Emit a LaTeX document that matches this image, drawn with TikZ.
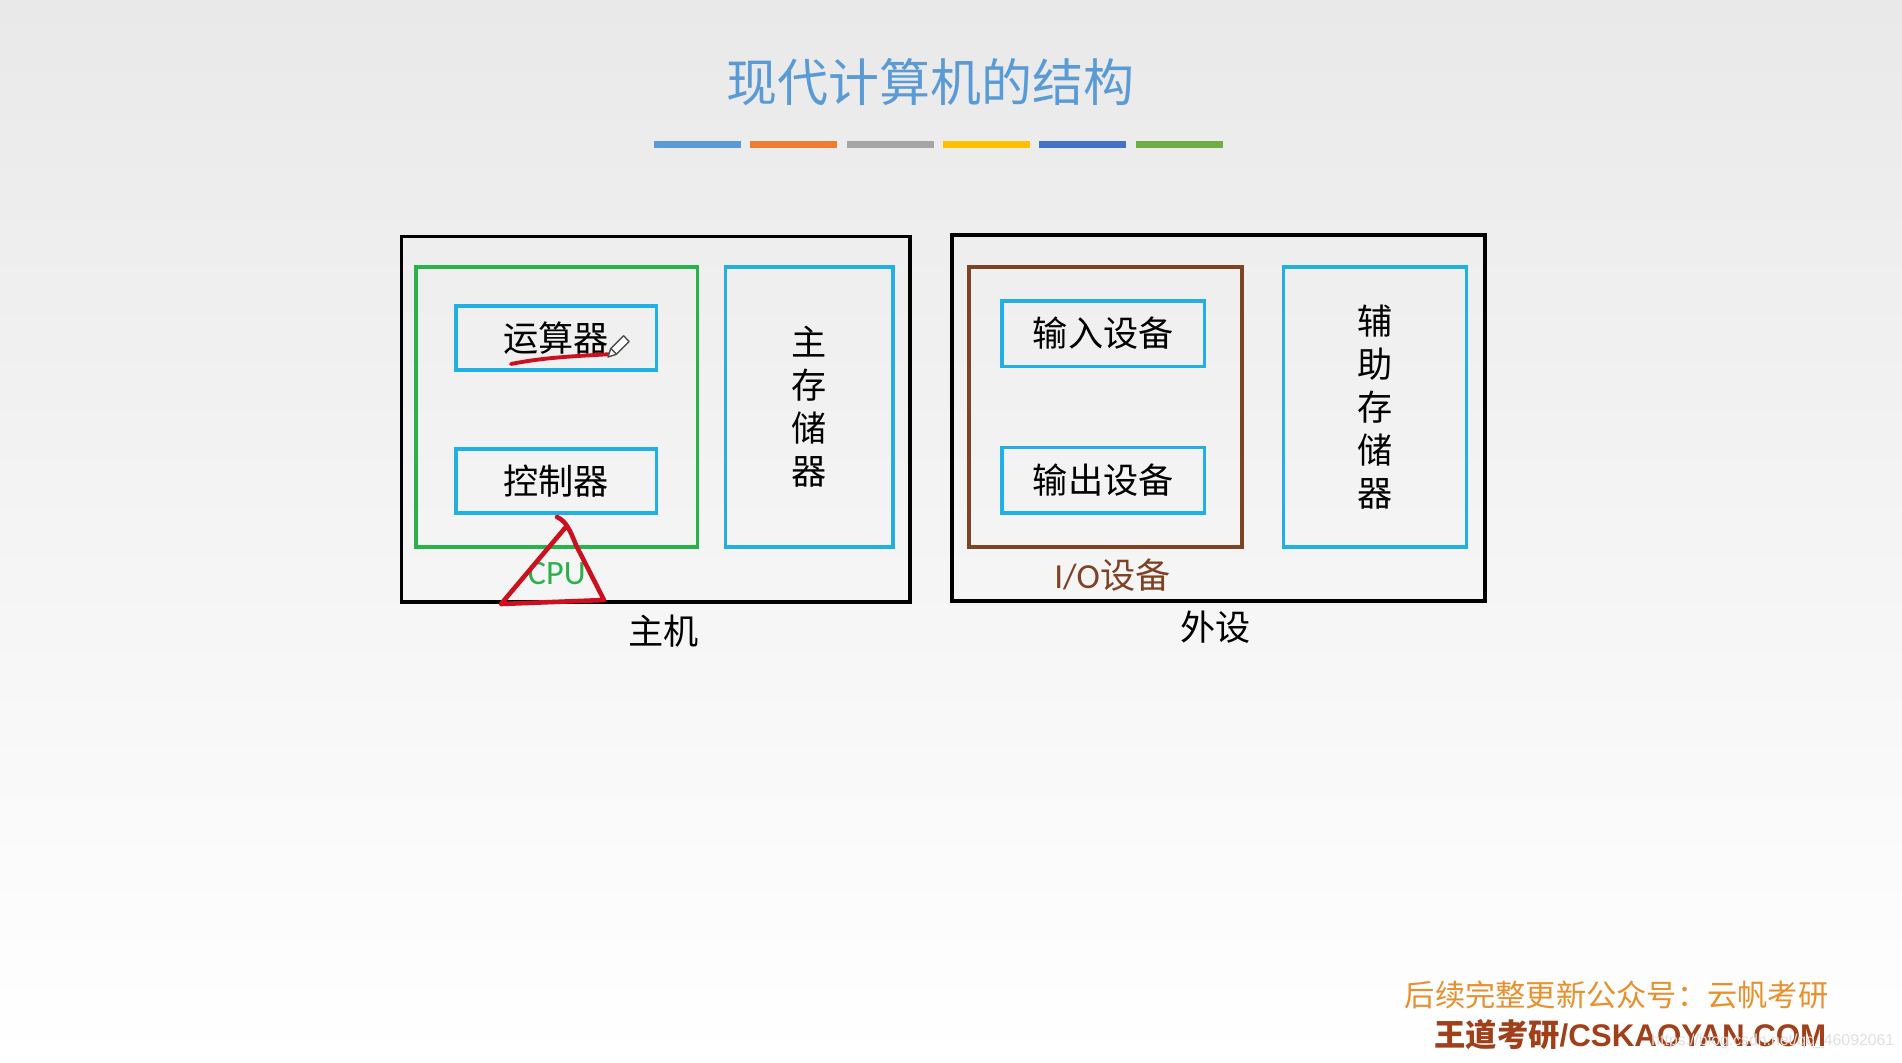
\documentclass[tikz,border=0pt]{standalone}
\usepackage{fontspec}
\setmainfont{Noto Sans CJK SC}
\newfontfamily\calfont{Carlito}
\newfontfamily\arialfont{Liberation Sans}
\usetikzlibrary{positioning}
\definecolor{bgtop}{HTML}{E9E9E9}
\definecolor{bgmid}{HTML}{F8F8F8}
\definecolor{csblue}{HTML}{5B9BD5}
\definecolor{csorange}{HTML}{ED7D31}
\definecolor{csgray}{HTML}{A5A5A5}
\definecolor{csgold}{HTML}{FFC000}
\definecolor{csnavy}{HTML}{4472C4}
\definecolor{cslime}{HTML}{70AD47}
\definecolor{cscyan}{HTML}{22B0E3}
\definecolor{csgreen}{HTML}{29B24A}
\definecolor{csbrown}{HTML}{7E4224}
\definecolor{csred}{HTML}{CC1020}
\definecolor{csnote}{HTML}{E8902C}
\definecolor{csrust}{HTML}{A0401A}
\tikzset{
  frame/.style={draw=black,line width=1.1pt,inner sep=0pt},
  group/.style={line width=1pt,inner sep=0pt},
  unit/.style={draw=cscyan,line width=1pt,inner sep=0pt,align=center,font=\fontsize{10}{12.2}\selectfont},
  lbl/.style={inner sep=0pt,font=\fontsize{10}{12}\selectfont},
  redpen/.style={draw=csred,line width=1.1pt,line cap=round,line join=round},
  pencil/.style={draw=black!70,fill=white,line width=0.4pt,line join=round},
}
\begin{document}
\begin{tikzpicture}[x=0.01cm,y=-0.01cm]
\useasboundingbox (0,0) rectangle (1902,1062);
\shade[top color=bgtop,middle color=bgmid,bottom color=white] (0,0) rectangle (1902,1062);
% title and colour bars
\node[text=csblue,font=\fontsize{14.5}{16}\selectfont] (title) at (930.4,82.5) {现代计算机的结构};
\foreach \c [count=\i from 0] in {csblue,csorange,csgray,csgold,csnavy,cslime}
  \fill[\c] (654+96.3*\i,140.5) rectangle ++(87,7);
% host
\node[frame,minimum width=5.08cm,minimum height=3.65cm] (host) at (655.7,419.1) {};
\node[group,draw=csgreen,minimum width=2.81cm,minimum height=2.80cm] (cpu) at (556.8,407) {};
\node[unit,minimum width=2.0cm,minimum height=0.643cm] (alu) at (556.2,337.9) {运算器};
\node[unit,minimum width=2.0cm,minimum height=0.643cm] (cu) at (556.2,481) {控制器};
\node[unit,minimum width=1.674cm,minimum height=2.80cm] (mem) at (809.1,407) {主\\存\\储\\器};
\node[lbl] (hostlbl) at (663.5,630.8) {主机};
\node[lbl,text=csgreen,font=\calfont\fontsize{9.7}{12}\selectfont] (cpulbl) at (556.8,573.8) {CPU};
% peripherals
\node[frame,minimum width=5.325cm,minimum height=3.651cm] (periph) at (1218.5,417.9) {};
\node[group,draw=csbrown,minimum width=2.729cm,minimum height=2.80cm] (io) at (1105.7,407) {};
\node[unit,minimum width=2.026cm,minimum height=0.655cm] (inp) at (1103.2,333.6) {输入设备};
\node[unit,minimum width=2.026cm,minimum height=0.655cm] (outp) at (1103.2,480.4) {输出设备};
\node[unit,minimum width=1.831cm,minimum height=2.80cm] (aux) at (1375,407) {辅\\助\\存\\储\\器};
\node[lbl] (periphlbl) at (1215.4,627.1) {外设};
\node[lbl,text=csbrown] (iolbl) at (1112.3,575) {{\calfont I/O}设备};
% pen marks
\draw[redpen] (511,364) .. controls (545,357) and (580,356) .. (612,354);
\draw[pencil] (608,357) -- (616.5,354.2) -- (629.2,341.5) -- (623.6,335.8) -- (610.8,348.5) -- cycle;
\draw[pencil] (616.5,354.2) -- (610.8,348.5);
\draw[redpen,line width=1.3pt] (557,517) .. controls (566,521) and (570,530) .. (576,545) -- (604,600) -- (501,604) -- (565,528);
% footer
\node[anchor=east,inner sep=0pt,text=csnote,font=\fontsize{8.6}{10}\selectfont] (notice) at (1829,994.7) {后续完整更新公众号：云帆考研};
\node[anchor=east,inner sep=0pt,text=csrust,font=\bfseries\fontsize{8.9}{10}\selectfont] (site) at (1827,1034.7) {王道考研{\arialfont\bfseries /CSKAOYAN.COM}};
\node[anchor=east,inner sep=0pt,text=black!12,font=\arialfont\fontsize{4.5}{5}\selectfont] (wm) at (1895,1041) {https://blog.csdn.net/qq\_46092061};
\end{tikzpicture}
\end{document}
